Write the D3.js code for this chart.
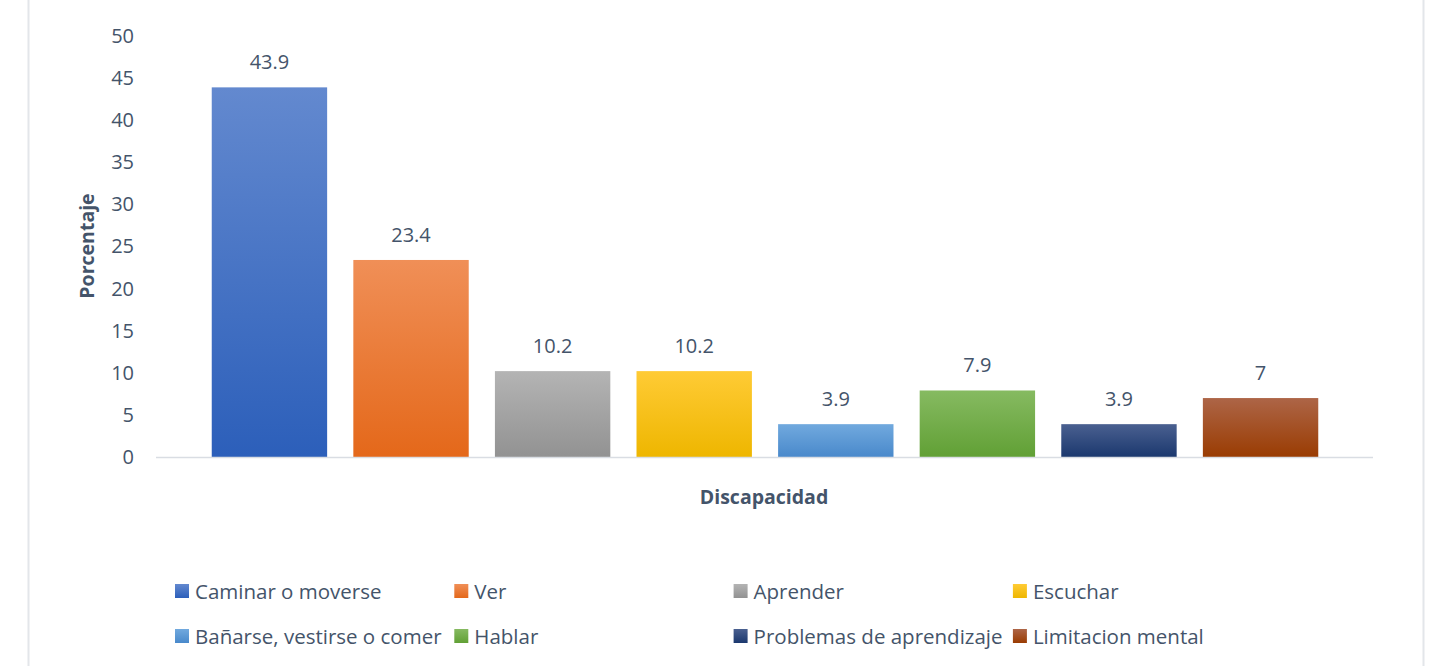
<!DOCTYPE html>
<html>
<head>
<meta charset="utf-8">
<script src="https://cdn.jsdelivr.net/npm/d3@7"></script>
<style>
  body { margin: 0; background: #fff; }
  svg { display: block; font-family: "Open Sans", sans-serif; }
</style>
</head>
<body>
<svg id="chart" width="1435" height="666"></svg>
<script>
// chart data
var categories = ['Caminar o moverse', 'Ver', 'Aprender', 'Escuchar',
  'Bañarse, vestirse o comer', 'Hablar', 'Problemas de aprendizaje', 'Limitacion mental'];
var values = [43.9, 23.4, 10.2, 10.2, 3.9, 7.9, 3.9, 7];
var valueLabels = ['43.9', '23.4', '10.2', '10.2', '3.9', '7.9', '3.9', '7'];
var yTicks = [0, 5, 10, 15, 20, 25, 30, 35, 40, 45, 50];
// top / bottom gradient stops for each bar
var colorsTop = ['#6389cf', '#f08f57', '#b4b4b4', '#ffcb35', '#71a9de', '#86ba61', '#4a6090', '#ad6547'];
var colorsBottom = ['#2c5fba', '#e4681a', '#929292', '#eeb600', '#4989cb', '#61a035', '#1b386e', '#9a3c02'];

var textColor = '#44546a';
var svg = d3.select('#chart');

// frame lines at the page edges
svg.append('line').attr('x1', 28.5).attr('x2', 28.5).attr('y1', 0).attr('y2', 666)
  .attr('stroke', '#e3e6ea').attr('stroke-width', 2);
svg.append('line').attr('x1', 1423.5).attr('x2', 1423.5).attr('y1', 0).attr('y2', 666)
  .attr('stroke', '#e3e6ea').attr('stroke-width', 2);

var x = d3.scaleBand().domain(categories).range([199, 1331]).paddingInner(0.185).paddingOuter(0.09);
var y = d3.scaleLinear().domain([0, 50]).range([457, 36]);

var defs = svg.append('defs');
categories.forEach(function(c, i) {
  var g = defs.append('linearGradient').attr('id', 'grad' + i)
    .attr('x1', 0).attr('y1', 0).attr('x2', 0).attr('y2', 1);
  g.append('stop').attr('offset', '0%').attr('stop-color', colorsTop[i]);
  g.append('stop').attr('offset', '100%').attr('stop-color', colorsBottom[i]);
});

// y axis labels (no line)
var yAxis = d3.axisLeft(y).tickValues(yTicks).tickSize(0).tickPadding(0);
var yg = svg.append('g').attr('transform', 'translate(134,0)').call(yAxis);
yg.select('.domain').remove();
yg.selectAll('text').attr('fill', textColor).style('font-size', '20px')
  .style('font-family', '"Open Sans", sans-serif');

// bars
var bars = svg.append('g').selectAll('g.bar')
  .data(categories)
  .enter().append('g').attr('class', 'bar');

bars.append('rect')
  .attr('x', function(d) { return x(d); })
  .attr('y', function(d, i) { return y(values[i]); })
  .attr('width', x.bandwidth())
  .attr('height', function(d, i) { return y(0) - y(values[i]); })
  .attr('fill', function(d, i) { return 'url(#grad' + i + ')'; });

bars.append('text')
  .attr('x', function(d) { return x(d) + x.bandwidth() / 2; })
  .attr('y', function(d, i) { return y(values[i]) - 18; })
  .attr('text-anchor', 'middle')
  .attr('fill', textColor)
  .style('font-size', '20px')
  .text(function(d, i) { return valueLabels[i]; });

// category axis line
svg.append('line').attr('x1', 156).attr('x2', 1373).attr('y1', y(0) + 0.5).attr('y2', y(0) + 0.5)
  .attr('stroke', '#d9dde3').attr('stroke-width', 1.5);

// axis titles
svg.append('text')
  .attr('transform', 'translate(94,246) rotate(-90)')
  .attr('text-anchor', 'middle')
  .attr('fill', textColor)
  .style('font-size', '19.5px').style('font-weight', 'bold')
  .text('Porcentaje');

svg.append('text')
  .attr('x', 764).attr('y', 504)
  .attr('text-anchor', 'middle')
  .attr('fill', textColor)
  .style('font-size', '19.5px').style('font-weight', 'bold')
  .text('Discapacidad');

// legend, 4 columns x 2 rows
var legend = svg.append('g').selectAll('g.item')
  .data(categories)
  .enter().append('g').attr('class', 'item')
  .attr('transform', function(d, i) {
    return 'translate(' + (175 + (i % 4) * 279.3) + ',' + (591 + Math.floor(i / 4) * 45) + ')';
  });

legend.append('rect')
  .attr('x', 0).attr('y', -7).attr('width', 14).attr('height', 14)
  .attr('fill', function(d, i) { return 'url(#grad' + i + ')'; });

legend.append('text')
  .attr('x', 20).attr('y', 7.5)
  .attr('fill', textColor)
  .style('font-size', '20.5px')
  .text(function(d) { return d; });
</script>
</body>
</html>
